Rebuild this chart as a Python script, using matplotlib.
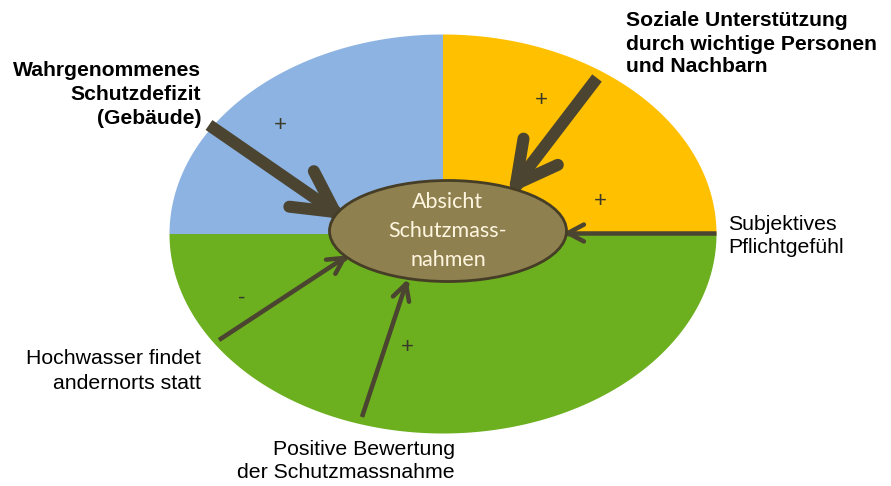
import numpy as np
import matplotlib.pyplot as plt
from matplotlib.patches import Ellipse, Polygon

# diagram layout (pixel coordinates of the 891x486 picture)
outer_center = (443, 234)
outer_size = (547, 399)
inner_center = (448, 231)
inner_size = (237, 101)

sector_colors = ['#8DB3E2', '#FFC000', '#6CAF1F']   # top-left, top-right, bottom
sector_angles = [(90, 180), (0, 90), (180, 360)]

inner_lines = ['Absicht', 'Schutzmass-', 'nahmen']
inner_line_y = [202, 231, 260]

# arrows: start, tip, line width (px), arm length (px)
arrow_starts = [(209, 125), (597, 78), (716, 233), (219, 340), (362, 417)]
arrow_tips = [(335, 212), (516, 184), (568, 233), (344, 258), (406, 284)]
arrow_widths = [12, 12, 4.5, 4.5, 4.5]
arrow_arms = [46, 46, 18, 18, 18]

signs = ['+', '+', '+', '+', '-']
sign_pos = [(280, 125), (541, 100), (600, 201), (407, 347), (242, 298)]

labels = [
    (['Wahrgenommenes', 'Schutzdefizit', '(Gebäude)'], 201, [71, 95, 118], 'right', 'bold'),
    (['Soziale Unterstützung', 'durch wichtige Personen', 'und Nachbarn'], 626, [20, 44, 67], 'left', 'bold'),
    (['Subjektives', 'Pflichtgefühl'], 728, [224, 247], 'left', 'normal'),
    (['Hochwasser findet', 'andernorts statt'], 201, [358, 383], 'right', 'normal'),
    (['Positive Bewertung', 'der Schutzmassnahme'], 455, [449, 472], 'right', 'normal'),
]

arrow_color = '#4B4430'

fig = plt.figure(figsize=(8.91, 4.86), dpi=100)
ax = fig.add_axes([0, 0, 1, 1])
ax.set_xlim(0, 891)
ax.set_ylim(486, 0)
ax.axis('off')

cx, cy = outer_center
a, b = outer_size[0] / 2, outer_size[1] / 2
for color, (t0, t1) in zip(sector_colors, sector_angles):
    t = np.radians(np.linspace(t0, t1, 200))
    pts = np.column_stack([cx + a * np.cos(t), cy - b * np.sin(t)])
    pts = np.vstack([[cx, cy], pts])
    ax.add_patch(Polygon(pts, closed=True, facecolor=color, edgecolor='none', zorder=1))

ax.add_patch(Ellipse(inner_center, inner_size[0], inner_size[1], facecolor='#8F8050',
                     edgecolor='#453D25', linewidth=2, zorder=3))
for line, y in zip(inner_lines, inner_line_y):
    ax.text(inner_center[0], y, line, ha='center', va='center', fontsize=15.5,
            family='Lato', color='#FFF6E0', zorder=4)

px = 0.72  # points per pixel
for (x0, y0), (x1, y1), w, arm in zip(arrow_starts, arrow_tips, arrow_widths, arrow_arms):
    ang = np.arctan2(y1 - y0, x1 - x0)
    ax.plot([x0, x1], [y0, y1], color=arrow_color, lw=w * px, solid_capstyle='butt', zorder=2)
    for da in (np.radians(28), -np.radians(28)):
        ax2 = ang + np.pi + da
        ax.plot([x1, x1 + arm * np.cos(ax2)], [y1, y1 + arm * np.sin(ax2)],
                color=arrow_color, lw=w * px, solid_capstyle='round', zorder=2)
    ax.plot([x1], [y1], 'o', color=arrow_color, ms=w * px, zorder=2)

for s, (x, y) in zip(signs, sign_pos):
    ax.text(x, y, s, ha='center', va='center', fontsize=16, color='#3A3A2A',
            family='Liberation Sans', zorder=4)

for lines, x, ys, ha, weight in labels:
    size = 15.2 if weight == 'bold' else 15.3
    for line, y in zip(lines, ys):
        ax.text(x, y, line, ha=ha, va='center', fontsize=size, fontweight=weight,
                family='Liberation Sans', color='black')

fig.savefig('out.png', dpi=100)
